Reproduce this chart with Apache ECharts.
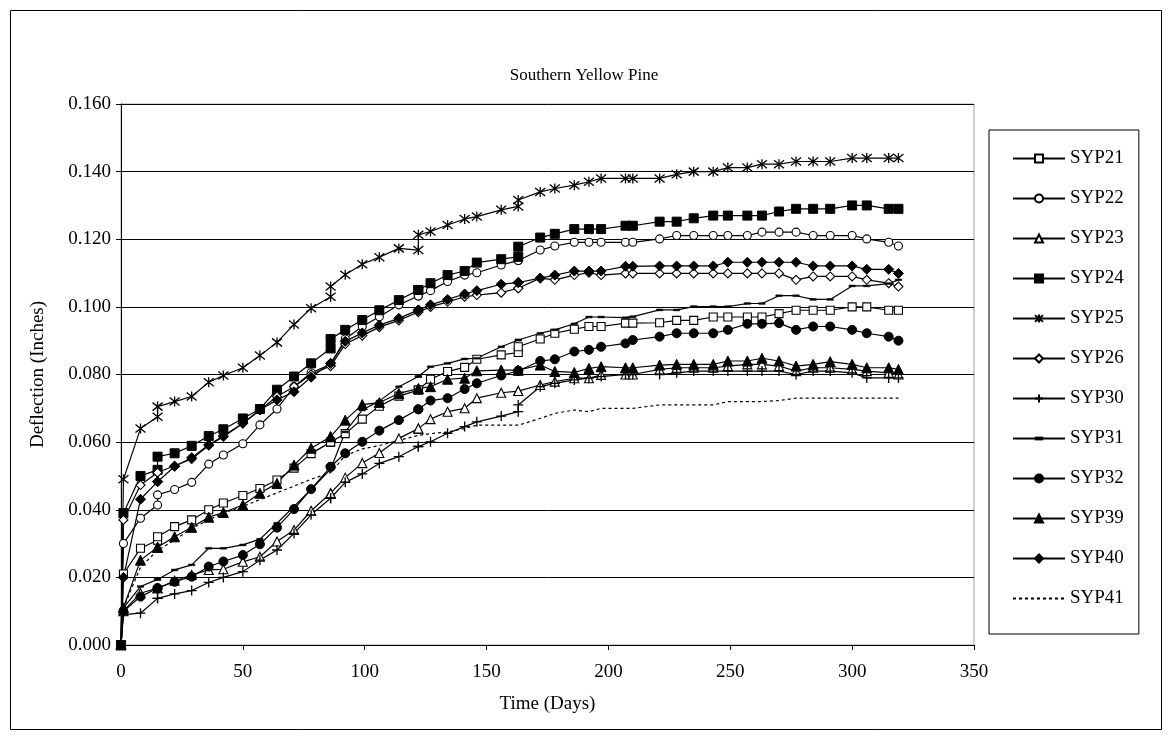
<!DOCTYPE html>
<html><head><meta charset="utf-8">
<script src="https://cdn.jsdelivr.net/npm/echarts@6/dist/echarts.min.js"></script>
<style>html,body{margin:0;padding:0;background:#fff}#c{width:1168px;height:736px}</style>
</head><body><div id="c"></div>
<script>
// ---- data ----
const days = [0, 1, 8, 15, 15,
  22, 29, 36, 42, 50,
  57, 64, 71, 78, 86,
  86, 92, 99, 106, 114,
  122, 122, 127, 134, 141,
  146, 156, 163, 163, 172,
  178, 186, 192, 197, 207,
  210, 221, 228, 235, 243,
  249, 257, 263, 270, 277,
  284, 291, 300, 306, 315,
  319];

const syp21 = [0, 0.021, 0.0286, 0.031, 0.032,
  0.035, 0.037, 0.040, 0.042, 0.0442,
  0.0463, 0.0488, 0.0523, 0.0566, 0.060,
  0.060, 0.0625, 0.0668, 0.0706, 0.0736,
  0.0754, 0.0754, 0.0786, 0.0809, 0.0821,
  0.0845, 0.0858, 0.0865, 0.0882, 0.0905,
  0.0922, 0.0934, 0.0942, 0.0942, 0.0952,
  0.0952, 0.0953, 0.096, 0.096, 0.097,
  0.097, 0.097, 0.097, 0.098, 0.099,
  0.099, 0.099, 0.100, 0.100, 0.099,
  0.099];

const syp22 = [0, 0.030, 0.0375, 0.0414, 0.0444,
  0.046, 0.0481, 0.0535, 0.0562, 0.0595,
  0.0651, 0.0698, 0.0764, 0.0805, 0.083,
  0.083, 0.0905, 0.0942, 0.0971, 0.1006,
  0.1032, 0.1032, 0.1048, 0.1075, 0.1094,
  0.1101, 0.1124, 0.1137, 0.1137, 0.1168,
  0.118, 0.1191, 0.1191, 0.1191, 0.1191,
  0.1191, 0.1201, 0.1211, 0.1211, 0.1211,
  0.1211, 0.1211, 0.1221, 0.1221, 0.1221,
  0.1211, 0.1211, 0.1211, 0.1201, 0.1191,
  0.118];

const syp23 = [0, 0.010, 0.0153, 0.0168, 0.0168,
  0.019, 0.0207, 0.0222, 0.0224, 0.0246,
  0.0261, 0.0306, 0.034, 0.0397, 0.0449,
  0.0449, 0.0495, 0.0538, 0.0568, 0.0611,
  0.064, 0.064, 0.0668, 0.069, 0.070,
  0.073, 0.0746, 0.0751, 0.0751, 0.0769,
  0.0779, 0.0789, 0.0789, 0.0799, 0.080,
  0.080, 0.0815, 0.082, 0.082, 0.082,
  0.0825, 0.083, 0.083, 0.0825, 0.081,
  0.082, 0.082, 0.0815, 0.081, 0.0805,
  0.080];

const syp24 = [0, 0.039, 0.050, 0.0518, 0.0557,
  0.0567, 0.0589, 0.0618, 0.0638, 0.067,
  0.0698, 0.0755, 0.0794, 0.0833, 0.0877,
  0.0905, 0.0932, 0.0961, 0.099, 0.102,
  0.105, 0.105, 0.107, 0.1094, 0.1106,
  0.1131, 0.1141, 0.1148, 0.1178, 0.1205,
  0.1216, 0.123, 0.123, 0.123, 0.124,
  0.124, 0.1252, 0.1252, 0.1262, 0.127,
  0.127, 0.127, 0.127, 0.1282, 0.129,
  0.129, 0.129, 0.130, 0.130, 0.129,
  0.129];

const syp25 = [0, 0.049, 0.064, 0.0675, 0.0705,
  0.072, 0.0735, 0.0777, 0.0797, 0.082,
  0.0856, 0.0895, 0.0948, 0.0996, 0.103,
  0.106, 0.1095, 0.1126, 0.1147, 0.1173,
  0.1168, 0.1213, 0.1223, 0.1242, 0.126,
  0.1267, 0.1287, 0.1297, 0.1316, 0.134,
  0.135, 0.136, 0.137, 0.138, 0.138,
  0.138, 0.138, 0.1392, 0.140, 0.140,
  0.1412, 0.1412, 0.1422, 0.1422, 0.143,
  0.143, 0.143, 0.144, 0.144, 0.144,
  0.144];

const syp26 = [0, 0.037, 0.0473, 0.051, 0.051,
  0.053, 0.055, 0.059, 0.0616, 0.0655,
  0.0695, 0.0735, 0.0764, 0.080, 0.0825,
  0.0825, 0.089, 0.0915, 0.094, 0.096,
  0.0985, 0.0985, 0.100, 0.1015, 0.103,
  0.1035, 0.1042, 0.1055, 0.1055, 0.1085,
  0.108, 0.1094, 0.1101, 0.1094, 0.1099,
  0.1099, 0.1099, 0.1099, 0.1099, 0.1099,
  0.1099, 0.1099, 0.1099, 0.1099, 0.108,
  0.109, 0.109, 0.109, 0.108, 0.107,
  0.106];

const syp30 = [0, 0.009, 0.0094, 0.0138, 0.0138,
  0.0151, 0.0161, 0.0185, 0.020, 0.0217,
  0.0251, 0.0281, 0.033, 0.0385, 0.0434,
  0.0434, 0.0481, 0.0506, 0.0537, 0.0557,
  0.0587, 0.0587, 0.0601, 0.0626, 0.0646,
  0.066, 0.0677, 0.069, 0.071, 0.0764,
  0.0774, 0.0784, 0.0789, 0.0794, 0.080,
  0.080, 0.080, 0.0805, 0.081, 0.081,
  0.081, 0.081, 0.081, 0.081, 0.080,
  0.081, 0.081, 0.0805, 0.079, 0.079,
  0.079];

const syp31 = [0, 0.011, 0.0173, 0.0194, 0.0194,
  0.0222, 0.0237, 0.0286, 0.0286, 0.0296,
  0.0313, 0.036, 0.041, 0.046, 0.052,
  0.052, 0.063, 0.0695, 0.0722, 0.0764,
  0.0794, 0.0794, 0.0823, 0.0833, 0.0846,
  0.0848, 0.0882, 0.0902, 0.0902, 0.0922,
  0.0932, 0.095, 0.097, 0.097, 0.0968,
  0.0971, 0.0991, 0.0991, 0.1001, 0.1001,
  0.1001, 0.101, 0.101, 0.1033, 0.1033,
  0.1022, 0.1022, 0.1062, 0.1062, 0.1069,
  0.108];

const syp32 = [0, 0.010, 0.0143, 0.0168, 0.0168,
  0.0187, 0.0202, 0.0232, 0.0247, 0.0266,
  0.0298, 0.0347, 0.0402, 0.0461, 0.0527,
  0.0527, 0.0567, 0.0601, 0.0634, 0.0665,
  0.0697, 0.0697, 0.0723, 0.073, 0.0757,
  0.0774, 0.0797, 0.0811, 0.0811, 0.084,
  0.0845, 0.0868, 0.0873, 0.0882, 0.0892,
  0.0902, 0.0912, 0.0922, 0.0922, 0.0922,
  0.0932, 0.095, 0.095, 0.0952, 0.0932,
  0.0942, 0.0942, 0.0932, 0.0922, 0.0912,
  0.090];

const syp39 = [0, 0.011, 0.0251, 0.0289, 0.0289,
  0.032, 0.0348, 0.0378, 0.0392, 0.0414,
  0.0449, 0.0478, 0.0532, 0.0582, 0.0616,
  0.0616, 0.0665, 0.0711, 0.0717, 0.0744,
  0.0758, 0.0758, 0.0764, 0.0786, 0.0789,
  0.0811, 0.0813, 0.0813, 0.0813, 0.0828,
  0.0809, 0.0806, 0.0818, 0.0823, 0.082,
  0.082, 0.0828, 0.083, 0.083, 0.083,
  0.084, 0.084, 0.0848, 0.084, 0.0825,
  0.083, 0.0838, 0.083, 0.082, 0.082,
  0.0815];

const syp40 = [0, 0.020, 0.0431, 0.0483, 0.0483,
  0.0528, 0.0554, 0.0592, 0.0618, 0.0656,
  0.0695, 0.0725, 0.0749, 0.0792, 0.0833,
  0.0833, 0.0898, 0.0923, 0.0946, 0.0966,
  0.0991, 0.0991, 0.1006, 0.1022, 0.1038,
  0.1048, 0.1067, 0.1072, 0.1072, 0.1085,
  0.1094, 0.1106, 0.1106, 0.1106, 0.112,
  0.112, 0.1121, 0.1121, 0.1121, 0.1121,
  0.1132, 0.1132, 0.1132, 0.1132, 0.1132,
  0.1121, 0.1121, 0.1121, 0.1111, 0.1111,
  0.1099];

const syp41 = [0, 0.011, 0.023, 0.028, 0.028,
  0.031, 0.0345, 0.037, 0.039, 0.041,
  0.043, 0.045, 0.047, 0.049, 0.051,
  0.051, 0.056, 0.058, 0.059, 0.0605,
  0.062, 0.062, 0.0625, 0.063, 0.064,
  0.065, 0.065, 0.065, 0.065, 0.067,
  0.0685, 0.0695, 0.069, 0.070, 0.070,
  0.070, 0.071, 0.071, 0.071, 0.071,
  0.072, 0.072, 0.072, 0.0723, 0.073,
  0.073, 0.073, 0.073, 0.073, 0.073,
  0.073];

const seriesNames = ['SYP21','SYP22','SYP23','SYP24','SYP25','SYP26','SYP30','SYP31','SYP32','SYP39','SYP40','SYP41'];
const seriesValues = [syp21, syp22, syp23, syp24, syp25, syp26, syp30, syp31, syp32, syp39, syp40, syp41];

// ---- styling ----
const FONT = '"Liberation Serif","Times New Roman",serif';
const STAR = 'path://M1,1L9,9M9,1L1,9M5,0L5,10';
const PLUS = 'path://M5,0L5,10M0,5L10,5';
const DASH = 'path://M0,0M1,3.9L9,3.9L9,6.1L1,6.1ZM10,10';
const styles = {
  SYP21: {symbol:'rect', size:8, fill:'#fff', bw:1.1},
  SYP22: {symbol:'circle', size:8, fill:'#fff', bw:1.1},
  SYP23: {symbol:'triangle', size:9, fill:'#fff', bw:1.1},
  SYP24: {symbol:'rect', size:9, fill:'#000', bw:1},
  SYP25: {symbol:STAR, size:10, fill:'#000', bw:1.3},
  SYP26: {symbol:'diamond', size:9, fill:'#fff', bw:1.1},
  SYP30: {symbol:PLUS, size:10, fill:'#000', bw:1.3},
  SYP31: {symbol:DASH, size:8, fill:'#000', bw:0.5},
  SYP32: {symbol:'circle', size:9, fill:'#000', bw:1},
  SYP39: {symbol:'triangle', size:10, fill:'#000', bw:1},
  SYP40: {symbol:'diamond', size:10, fill:'#000', bw:1},
  SYP41: {symbol:'circle', size:0, fill:'transparent', bw:0, dashed:true}
};

const series = seriesNames.map((name, i) => {
  const st = styles[name];
  return {
    name: name,
    type: 'line',
    data: days.map((d, k) => [d, seriesValues[i][k]]),
    symbol: st.symbol,
    symbolSize: st.size,
    showSymbol: !st.dashed,
    lineStyle: {color:'#000', width:1.2, type: st.dashed ? [3,3] : 'solid'},
    itemStyle: {color: st.fill, borderColor: st.dashed ? 'transparent' : '#000', borderWidth: st.bw},
    emphasis: {disabled:true},
    z: 2
  };
});

const chart = echarts.init(document.getElementById('c'), null, {renderer:'canvas'});
chart.setOption({
  animation: false,
  backgroundColor: '#fff',
  title: {
    text: 'Southern Yellow Pine', left: 'center', top: 62,
    textStyle: {fontFamily: FONT, fontSize: 17, fontWeight: 'normal', color: '#000'}
  },
  legend: {
    orient: 'vertical', left: 989, top: 130,
    padding: [19, 15, 26, 23],
    itemWidth: 52, itemHeight: 10, itemGap: 21,
    borderColor: '#000', borderWidth: 1,
    textStyle: {fontFamily: FONT, fontSize: 19, color: '#000'},
    data: seriesNames
  },
  graphic: [{
    type: 'rect', left: 8, top: 8, z: 100, silent: true,
    shape: {width: 1151, height: 719},
    style: {fill: 'none', stroke: '#000', lineWidth: 1}
  }],
  grid: {left: 121, right: 194, top: 104, bottom: 91, show: true,
         borderColor: '#a0a0a0', borderWidth: 1, backgroundColor: 'transparent'},
  xAxis: {
    type: 'value', min: 0, max: 350, interval: 50,
    name: 'Time (Days)', nameLocation: 'middle', nameGap: 50,
    nameTextStyle: {fontFamily: FONT, fontSize: 19, color: '#000'},
    axisLine: {show: true, lineStyle: {color: '#000', width: 1}},
    axisTick: {show: true, length: 5, lineStyle: {color: '#000'}},
    axisLabel: {fontFamily: FONT, fontSize: 19, color: '#000', margin: 18},
    splitLine: {show: false}
  },
  yAxis: {
    type: 'value', min: 0, max: 0.16, interval: 0.02,
    name: 'Deflection (Inches)', nameLocation: 'middle', nameGap: 73, nameRotate: 90,
    nameTextStyle: {fontFamily: FONT, fontSize: 19, color: '#000'},
    axisLine: {show: true, lineStyle: {color: '#000', width: 1}},
    axisTick: {show: true, length: 5, lineStyle: {color: '#000'}},
    axisLabel: {fontFamily: FONT, fontSize: 19, color: '#000', margin: 10,
                formatter: v => v.toFixed(3)},
    splitLine: {show: true, lineStyle: {color: '#000', width: 1}}
  },
  series: series
});
</script></body></html>
